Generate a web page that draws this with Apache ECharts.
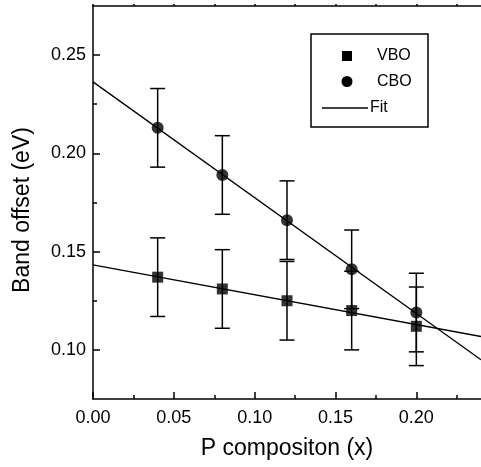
<!DOCTYPE html>
<html>
<head>
<meta charset="utf-8">
<script src="https://cdn.jsdelivr.net/npm/echarts@6/dist/echarts.min.js"></script>
<style>
html,body{margin:0;padding:0;background:#fff;}
#c{width:481px;height:467px;}
</style>
</head>
<body>
<div id="c"></div>
<script>
// ---- data ----
var xValues = [0.04, 0.08, 0.12, 0.16, 0.20];
var vboValues = [0.137, 0.131, 0.125, 0.120, 0.112];
var vboErr = [0.020, 0.020, 0.020, 0.020, 0.020];
var cboValues = [0.213, 0.189, 0.166, 0.141, 0.119];
var cboErr = [0.020, 0.020, 0.020, 0.020, 0.020];
var vboFitX = [0, 0.24];
var vboFitY = [0.1433, 0.1068];
var cboFitX = [0, 0.24];
var cboFitY = [0.2364, 0.0950];
var xMajorTicks = [0, 0.05, 0.10, 0.15, 0.20];
var xMinorTicks = [0.025, 0.075, 0.125, 0.175, 0.225];
var yMajorTicks = [0.10, 0.15, 0.20, 0.25];
var yMinorTicks = [0.125, 0.175, 0.225];
var legendNames = ['VBO', 'CBO', 'Fit'];

var FONT = '"Liberation Sans", Arial, Helvetica, sans-serif';

function pairs(xs, ys) { return xs.map(function (x, i) { return [x, ys[i]]; }); }
function errData(xs, ys, es) { return xs.map(function (x, i) { return [x, ys[i] - es[i], ys[i] + es[i]]; }); }

function renderErr(params, api) {
  var x = api.value(0);
  var lo = api.coord([x, api.value(1)]);
  var hi = api.coord([x, api.value(2)]);
  var hw = 7.5;
  var st = { stroke: '#000', lineWidth: 1.5, fill: null };
  return {
    type: 'group',
    children: [
      { type: 'line', shape: { x1: lo[0], y1: lo[1], x2: hi[0], y2: hi[1] }, style: st },
      { type: 'line', shape: { x1: lo[0] - hw, y1: lo[1], x2: lo[0] + hw, y2: lo[1] }, style: st },
      { type: 'line', shape: { x1: hi[0] - hw, y1: hi[1], x2: hi[0] + hw, y2: hi[1] }, style: st }
    ]
  };
}

var axisLineStyle = { color: '#000', width: 1.5 };

var chart = echarts.init(document.getElementById('c'));
chart.setOption({
  animation: false,
  backgroundColor: '#fff',
  grid: { left: 93, top: 6, right: -5, bottom: 68, containLabel: false },
  xAxis: [
    {
      type: 'value', position: 'bottom', min: 0, max: 0.24,
      name: 'P compositon (x)', nameLocation: 'middle', nameGap: 38,
      nameTextStyle: { color: '#000', fontFamily: FONT, fontSize: 23 },
      axisLine: { show: true, lineStyle: axisLineStyle },
      axisTick: { show: true, inside: true, length: 7, lineStyle: axisLineStyle, customValues: xMajorTicks },
      axisLabel: { show: true, margin: 10, customValues: xMajorTicks, formatter: function (v) { return v.toFixed(2); }, color: '#000', fontFamily: FONT, fontSize: 18 },
      splitLine: { show: false }
    },
    {
      type: 'value', position: 'bottom', min: 0, max: 0.24,
      axisLine: { show: false },
      axisTick: { show: true, inside: true, length: 4, lineStyle: axisLineStyle, customValues: xMinorTicks },
      axisLabel: { show: false },
      splitLine: { show: false }
    },
    {
      type: 'value', position: 'top', min: 0, max: 0.24,
      axisLine: { show: true, lineStyle: axisLineStyle },
      axisTick: { show: true, inside: false, length: 2, lineStyle: axisLineStyle, customValues: xMajorTicks.concat(xMinorTicks) },
      axisLabel: { show: false },
      splitLine: { show: false }
    }
  ],
  yAxis: [
    {
      type: 'value', position: 'left', min: 0.075, max: 0.275,
      name: 'Band offset (eV)', nameLocation: 'middle', nameGap: 59,
      nameTextStyle: { color: '#000', fontFamily: FONT, fontSize: 23, padding: [0, 15, 0, 0] },
      axisLine: { show: true, lineStyle: axisLineStyle },
      axisTick: { show: true, inside: true, length: 7, lineStyle: axisLineStyle, customValues: yMajorTicks },
      axisLabel: { show: true, margin: 7, customValues: yMajorTicks, formatter: function (v) { return v.toFixed(2); }, color: '#000', fontFamily: FONT, fontSize: 18 },
      splitLine: { show: false }
    },
    {
      type: 'value', position: 'left', min: 0.075, max: 0.275,
      axisLine: { show: false },
      axisTick: { show: true, inside: true, length: 4, lineStyle: axisLineStyle, customValues: yMinorTicks },
      axisLabel: { show: false },
      splitLine: { show: false }
    }
  ],
  series: [
    {
      name: 'CBO fit', type: 'line', data: pairs(cboFitX, cboFitY), symbol: 'none',
      lineStyle: { color: '#000', width: 1.3 }, silent: true, z: 1
    },
    {
      name: 'VBO fit', type: 'line', data: pairs(vboFitX, vboFitY), symbol: 'none',
      lineStyle: { color: '#000', width: 1.3 }, silent: true, z: 1
    },
    { name: 'VBO err', type: 'custom', renderItem: renderErr, data: errData(xValues, vboValues, vboErr), z: 2 },
    { name: 'CBO err', type: 'custom', renderItem: renderErr, data: errData(xValues, cboValues, cboErr), z: 2 },
    {
      name: legendNames[0], type: 'scatter', symbol: 'rect', symbolSize: 11,
      itemStyle: { color: '#000' }, data: pairs(xValues, vboValues), z: 3
    },
    {
      name: legendNames[1], type: 'scatter', symbol: 'circle', symbolSize: 12,
      itemStyle: { color: '#000' }, data: pairs(xValues, cboValues), z: 3
    }
  ],
  graphic: [
    { type: 'rect', z: 10, shape: { x: 311, y: 34, width: 117, height: 93 }, style: { fill: '#fff', stroke: '#000', lineWidth: 1.5 } },
    { type: 'rect', z: 11, shape: { x: 342, y: 51, width: 10, height: 10 }, style: { fill: '#000' } },
    { type: 'circle', z: 11, shape: { cx: 347, cy: 81.5, r: 5.5 }, style: { fill: '#000' } },
    { type: 'line', z: 11, shape: { x1: 322, y1: 108, x2: 368, y2: 108 }, style: { stroke: '#000', lineWidth: 1.3 } },
    { type: 'text', z: 11, x: 377, y: 56, style: { text: legendNames[0], fill: '#000', font: '16px ' + FONT, verticalAlign: 'middle' } },
    { type: 'text', z: 11, x: 377, y: 82, style: { text: legendNames[1], fill: '#000', font: '16px ' + FONT, verticalAlign: 'middle' } },
    { type: 'text', z: 11, x: 370, y: 108, style: { text: legendNames[2], fill: '#000', font: '16px ' + FONT, verticalAlign: 'middle' } }
  ]
});
</script>
</body>
</html>
